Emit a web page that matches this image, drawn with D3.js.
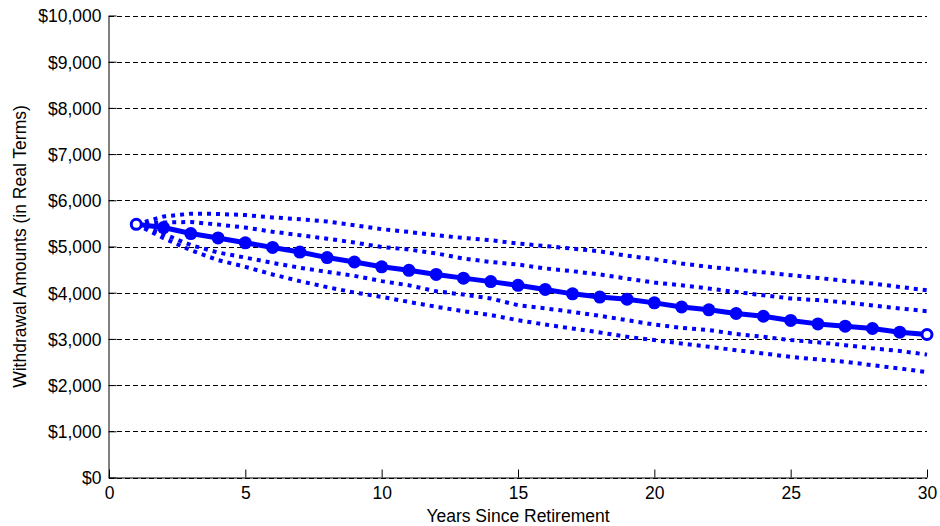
<!DOCTYPE html>
<html>
<head>
<meta charset="utf-8">
<script src="https://cdn.jsdelivr.net/npm/d3@7"></script>
<style>
  html, body { margin: 0; padding: 0; background: #fff; }
  svg { display: block; }
  text { font-family: "Liberation Sans", Arial, sans-serif; fill: #000; }
</style>
</head>
<body>
<svg id="chart" width="940" height="526"></svg>
<script>
// ---- Data ----
const years = d3.range(1, 31);
const median = [5480,5410,5280,5185,5080,4980,4880,4760,4665,4560,4485,4395,4315,4240,4160,4070,3975,3905,3860,3780,3690,3630,3550,3490,3400,3325,3275,3225,3145,3095];
const upperOuter = [5480,5650,5710,5705,5680,5630,5590,5540,5460,5375,5315,5245,5185,5135,5065,5010,4955,4895,4800,4725,4630,4560,4500,4440,4380,4320,4255,4200,4125,4050];
const upperInner = [5480,5520,5530,5475,5410,5320,5245,5170,5085,4990,4935,4850,4740,4665,4610,4525,4465,4395,4305,4220,4160,4090,4015,3945,3875,3840,3790,3725,3660,3600];
const lowerInner = [5480,5270,5030,4870,4760,4645,4540,4450,4365,4250,4160,4030,3960,3875,3730,3660,3585,3500,3405,3310,3240,3190,3105,3045,2975,2925,2865,2795,2740,2660];
const lowerOuter = [5480,5180,4920,4705,4560,4395,4250,4120,4005,3910,3800,3695,3600,3515,3405,3310,3225,3140,3045,2975,2900,2830,2755,2685,2610,2555,2505,2430,2360,2280];
const xTicks = [0, 5, 10, 15, 20, 25, 30];
const yTicks = [0,1000,2000,3000,4000,5000,6000,7000,8000,9000,10000];
const xLabel = "Years Since Retirement";
const yLabel = "Withdrawal Amounts (in Real Terms)";

// ---- Layout ----
const svg = d3.select("#chart");
const pLeft = 109, pRight = 927, pTop = 15.5, pBottom = 477.5;
const x = d3.scaleLinear().domain([0, 30]).range([pLeft, pRight]);
const y = d3.scaleLinear().domain([0, 10000]).range([pBottom, pTop]);
const blue = "#0000ff";
const fontSize = "17.5px";

// Grid lines (dashed)
svg.append("g").selectAll("line").data(yTicks).join("line")
  .attr("x1", pLeft).attr("x2", pRight)
  .attr("y1", d => Math.round(y(d)) + 0.5).attr("y2", d => Math.round(y(d)) + 0.5)
  .attr("stroke", "#000").attr("stroke-width", 1)
  .attr("stroke-dasharray", "5,3");

// Axes
const fmt = d => "$" + d3.format(",")(d);
const yAxis = svg.append("g")
  .attr("transform", `translate(${pLeft - 0.5},0)`)
  .call(d3.axisLeft(y).tickValues(yTicks).tickFormat(fmt).tickSizeInner(-8).tickSizeOuter(0).tickPadding(7));
const xAxis = svg.append("g")
  .attr("transform", `translate(0,${pBottom})`)
  .call(d3.axisBottom(x).tickValues(xTicks).tickFormat(d3.format("d")).tickSizeInner(-8).tickSizeOuter(0).tickPadding(5));
[yAxis, xAxis].forEach(g => {
  g.selectAll("text").style("font-size", fontSize).attr("fill", "#000")
    .style("font-family", '"Liberation Sans", Arial, sans-serif');
  g.selectAll("path, line").attr("stroke", "#000");
});
xAxis.selectAll("text").attr("y", 21).attr("dy", 0);
yAxis.selectAll("text").attr("dy", "0.36em");

// Axis labels
svg.append("text")
  .attr("x", (pLeft + pRight) / 2).attr("y", 522)
  .attr("text-anchor", "middle").style("font-size", fontSize)
  .text(xLabel);
svg.append("text")
  .attr("transform", `translate(26,${(pTop + pBottom) / 2}) rotate(-90)`)
  .attr("text-anchor", "middle").style("font-size", fontSize)
  .text(yLabel);

// Lines
const line = d3.line().x((d, i) => x(years[i])).y(d => y(d));
[upperOuter, upperInner, lowerInner, lowerOuter].forEach(s => {
  svg.append("path").datum(s).attr("d", line)
    .attr("fill", "none").attr("stroke", blue)
    .attr("stroke-width", 4).attr("stroke-dasharray", "4,5");
});
svg.append("path").datum(median).attr("d", line)
  .attr("fill", "none").attr("stroke", blue).attr("stroke-width", 5)
  .attr("stroke-linejoin", "round");
svg.append("g").selectAll("circle").data(median).join("circle")
  .attr("cx", (d, i) => x(years[i])).attr("cy", d => y(d))
  .attr("r", (d, i) => (i === 0 || i === median.length - 1) ? 5 : 6.5)
  .attr("fill", (d, i) => (i === 0 || i === median.length - 1) ? "#fff" : blue)
  .attr("stroke", blue)
  .attr("stroke-width", (d, i) => (i === 0 || i === median.length - 1) ? 3 : 0);
</script>
</body>
</html>
